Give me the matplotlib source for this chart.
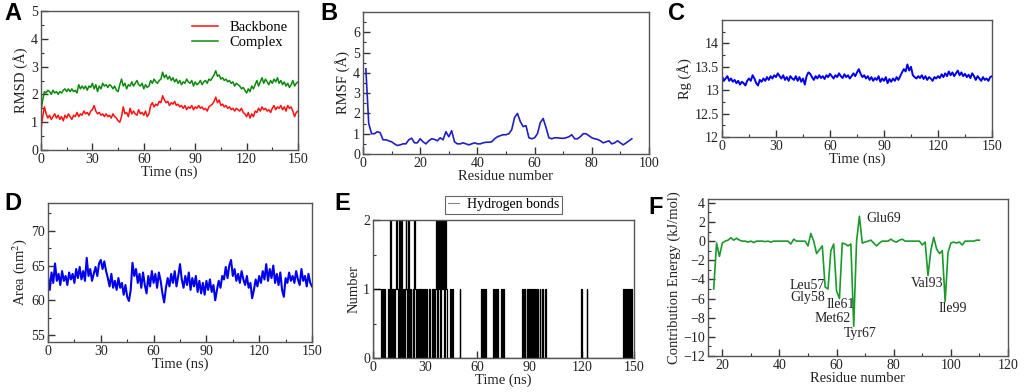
import numpy as np
import matplotlib
matplotlib.use("Agg")
import matplotlib.pyplot as plt
from matplotlib.ticker import MultipleLocator

plt.rcParams['font.family'] = ['Liberation Serif', 'DejaVu Serif']
plt.rcParams['mathtext.fontset'] = 'stix'

# A - RMSD, 1 ns per point (0..150)
rmsd_backbone = [
    0.75, 1.2, 1.55, 1.3, 1.15, 1.25, 1.1, 1.2, 1.3, 1.15,
    1.25, 1.1, 1.2, 1.05, 1.25, 1.15, 1.3, 1.2, 1.1, 1.25,
    1.2, 1.35, 1.2, 1.3, 1.25, 1.4, 1.3, 1.35, 1.25, 1.4,
    1.45, 1.6, 1.4, 1.3, 1.35, 1.25, 1.3, 1.2, 1.3, 1.2,
    1.25, 1.15, 1.3, 1.2, 1.15, 1.05, 1.0, 1.2, 1.55, 1.3,
    1.35, 1.2, 1.5, 1.3, 1.4, 1.3, 1.25, 1.45, 1.3, 1.35,
    1.25, 1.4, 1.2, 1.3, 1.6, 1.7, 1.55, 1.65, 1.6, 1.75,
    1.7, 1.95, 1.8, 1.7, 1.75, 1.6, 1.7, 1.65, 1.75, 1.6,
    1.65, 1.55, 1.6, 1.5, 1.6, 1.45, 1.55, 1.5, 1.6, 1.45,
    1.55, 1.5, 1.6, 1.5, 1.55, 1.45, 1.5, 1.4, 1.55, 1.6,
    1.65, 1.75, 1.9, 1.7, 1.8, 1.6, 1.65, 1.55, 1.6, 1.5,
    1.55, 1.45, 1.5, 1.4, 1.5, 1.45, 1.4, 1.5, 1.35, 1.3,
    1.2, 1.35, 1.15, 1.3, 1.2, 1.4, 1.35, 1.5, 1.4, 1.55,
    1.45, 1.5, 1.4, 1.45, 1.35, 1.5, 1.6, 1.45, 1.55, 1.5,
    1.6, 1.45, 1.55, 1.4, 1.6, 1.5, 1.55, 1.4, 1.2, 1.35,
    1.4]
rmsd_complex = [
    1.4, 1.8, 2.1, 2.05, 2.15, 2.1, 2.0, 2.15, 2.05, 2.1,
    2.0, 2.1, 2.05, 2.15, 2.2, 2.1, 2.2, 2.1, 2.2, 2.1,
    2.15, 2.05, 2.35, 2.2, 2.3, 2.2, 2.3, 2.15, 2.3, 2.25,
    2.4, 2.2, 2.35, 2.1, 2.3, 2.2, 2.4, 2.3, 2.35, 2.25,
    2.35, 2.3, 2.2, 2.3, 2.15, 2.1, 2.35, 2.55, 2.3, 2.4,
    2.2, 2.35, 2.3, 2.45, 2.3, 2.4, 2.5, 2.35, 2.3, 2.4,
    2.2, 2.35, 2.25, 2.3, 2.5, 2.4, 2.55, 2.45, 2.4, 2.5,
    2.55, 2.8, 2.6, 2.7, 2.55, 2.65, 2.5, 2.6, 2.45, 2.55,
    2.4, 2.5, 2.35, 2.45, 2.4, 2.55, 2.45, 2.4, 2.5, 2.3,
    2.45, 2.35, 2.4, 2.5, 2.35, 2.45, 2.5, 2.4, 2.55, 2.5,
    2.6, 2.7, 2.85, 2.65, 2.7, 2.55, 2.6, 2.5, 2.55, 2.45,
    2.5, 2.4, 2.45, 2.3, 2.4, 2.35, 2.3, 2.2, 2.25, 2.15,
    2.05, 2.2, 2.1, 2.3, 2.2, 2.35, 2.5, 2.3, 2.45, 2.6,
    2.4, 2.55, 2.45, 2.35, 2.5, 2.4, 2.55, 2.45, 2.6, 2.4,
    2.5, 2.35, 2.45, 2.3, 2.4, 2.25, 2.35, 2.5, 2.3, 2.4,
    2.45]

# B - RMSF per residue 1..94
rmsf = [
    4.2, 1.5, 1.0, 1.0, 1.1, 1.05, 0.7, 0.7, 0.65, 0.6,
    0.5, 0.42, 0.45, 0.5, 0.5, 0.7, 0.78, 0.55, 0.55, 0.75,
    0.6, 0.5, 0.65, 0.75, 0.72, 0.65, 0.8, 0.7, 1.1, 0.85,
    1.15, 0.6, 0.5, 0.5, 0.55, 0.5, 0.45, 0.5, 0.55, 0.5,
    0.5, 0.55, 0.58, 0.58, 0.6, 0.75, 0.85, 0.9, 0.95, 0.95,
    1.0, 1.2, 1.8, 2.0, 1.6, 1.35, 1.4, 0.8, 0.75, 0.8,
    1.0, 1.55, 1.75, 1.3, 0.8, 0.75, 0.8, 0.8, 0.78, 0.77,
    0.8, 0.85, 0.95, 0.75, 0.75, 0.85, 1.0, 1.0, 0.9, 0.8,
    0.75, 0.72, 0.65, 0.55, 0.6, 0.65, 0.5, 0.55, 0.65, 0.55,
    0.45, 0.55, 0.65, 0.75]

# C - radius of gyration, 1 ns per point
rg = [
    13.3, 13.2, 13.25, 13.3, 13.2, 13.25, 13.18, 13.22, 13.15, 13.2,
    13.12, 13.18, 13.15, 13.1, 13.2, 13.25, 13.2, 13.32, 13.25, 13.15,
    13.1, 13.22, 13.18, 13.25, 13.2, 13.28, 13.22, 13.3, 13.25, 13.32,
    13.28, 13.36, 13.3, 13.25, 13.32, 13.22, 13.28, 13.2, 13.3, 13.25,
    13.22, 13.3, 13.2, 13.28, 13.18, 13.25, 13.12, 13.3, 13.38, 13.35,
    13.28, 13.22, 13.3, 13.25, 13.32, 13.26, 13.3, 13.24, 13.32, 13.28,
    13.35, 13.3, 13.25, 13.32, 13.28, 13.36, 13.3, 13.26, 13.34, 13.28,
    13.32, 13.25, 13.3, 13.36, 13.3, 13.38, 13.45, 13.35, 13.28, 13.32,
    13.25, 13.3, 13.22, 13.28, 13.2, 13.26, 13.22, 13.3, 13.18, 13.25,
    13.2, 13.28, 13.15, 13.24, 13.18, 13.25, 13.2, 13.28, 13.22, 13.3,
    13.38, 13.45, 13.4, 13.55, 13.42, 13.5, 13.32, 13.28, 13.25, 13.3,
    13.26, 13.32, 13.24, 13.3, 13.22, 13.28, 13.25, 13.2, 13.28, 13.25,
    13.3, 13.26, 13.34, 13.28, 13.36, 13.3, 13.4, 13.32, 13.38, 13.3,
    13.36, 13.42, 13.32, 13.38, 13.3, 13.35, 13.28, 13.33, 13.26, 13.36,
    13.3, 13.22, 13.3, 13.25, 13.2, 13.28, 13.22, 13.25, 13.2, 13.28,
    13.3]

# D - SASA, 1 ns per point
area = [
    63.5, 61.5, 64.0, 62.5, 65.3, 62.8, 63.8, 62.2, 64.2, 62.8,
    63.5, 62.2, 64.0, 63.0, 63.8, 62.5, 64.5, 63.2, 64.8, 63.0,
    64.2, 62.8, 66.1, 63.5, 64.5, 62.8, 63.8, 64.8, 63.5, 65.3,
    65.8, 64.5, 65.6, 64.2, 63.2, 62.0, 63.8, 61.8, 62.8, 61.5,
    63.2, 61.8, 62.5, 60.8, 62.2, 60.5, 59.9, 61.5, 65.4, 63.5,
    64.5, 62.5, 63.8, 61.8, 64.0, 62.2, 61.0, 63.5, 62.0, 64.2,
    62.5, 63.8, 61.8, 64.0, 62.8, 61.0, 59.7, 61.8, 63.2, 62.0,
    63.8, 62.5, 64.2, 62.0, 63.5, 65.2, 63.0, 61.8, 63.5, 62.2,
    64.0, 61.5, 63.2, 62.0, 63.5, 61.2, 62.8, 61.0, 62.5, 60.8,
    62.8, 61.5, 63.0, 61.2, 62.2, 60.0, 61.5, 62.8, 61.8, 63.5,
    63.0, 64.8, 63.2, 65.0, 65.8, 63.5, 64.5, 62.8, 63.8, 62.5,
    64.2, 63.0, 62.2, 63.5, 61.8, 62.5, 60.3, 61.5, 63.0, 62.0,
    63.5, 62.5, 64.2, 63.0, 65.2, 62.8, 64.5, 63.2, 65.0, 62.5,
    63.8, 62.2, 64.0, 61.5, 60.5, 63.2, 62.5, 64.0, 62.8, 63.5,
    62.5, 64.2, 63.0, 62.2, 64.5, 62.8, 63.5, 62.0, 63.8, 62.5,
    62.0]

# E - hydrogen bonds, frames every 0.5 ns; only frames with bonds listed
hb_times = [
    0.5, 1, 1.5, 2, 2.5, 3, 3.5, 4, 4.5, 5.5, 6.5, 9, 10, 11, 12, 13, 13.5,
    14, 15, 15.5, 16.5, 17.5, 18.5, 19, 19.5, 20.5, 21.5, 23, 24, 24.5,
    25.5, 26.5, 27.5, 28.5, 29.5, 30.5, 32.5, 34, 35, 36, 36.5, 37.5, 38,
    38.5, 39.5, 40, 40.5, 41.5, 42, 44.5, 45.5, 50, 62.5, 63.5, 64.5, 69.5,
    70.5, 71.5, 74, 75, 86, 87, 88.5, 89.5, 90.5, 91.5, 92.5, 93.5, 94.5,
    96, 97.5, 99, 120, 123, 144, 145, 146.5, 147.5, 148.5]
hb_counts = [
    1, 1, 1, 1, 1, 1, 1, 1, 1, 1, 1, 1, 2, 1, 1, 1, 2,
    1, 2, 1, 2, 1, 1, 2, 1, 2, 1, 1, 2, 1,
    1, 1, 1, 1, 1, 1, 1, 1, 1, 1, 2, 2, 1,
    2, 2, 1, 2, 2, 1, 1, 1, 1, 1, 1, 1, 1,
    1, 1, 1, 1, 1, 1, 1, 1, 1, 1, 1, 1, 1,
    1, 1, 1, 1, 1, 1, 1, 1, 1, 1]

# F - per-residue energy contribution, residues 17..110
res_f = list(range(17, 111))
energy = [
    -5.0, -0.2, -1.6, -0.2, 0.0, 0.1, 0.35, 0.1, 0.3, 0.1,
    0.0, 0.0, -0.1, 0.0, -0.15, 0.0, 0.0, 0.0, -0.05, 0.0,
    -0.1, 0.0, 0.0, 0.0, 0.0, 0.0, 0.0, -0.3, 0.2, 0.0,
    0.0, 0.0, 0.0, -0.5, 0.8, 0.0, -1.3, -0.9, -0.5, -4.8,
    -5.0, -1.0, -0.3, -5.2, -6.0, -0.2, -0.3, -0.5, -0.3, -8.9,
    0.0, 2.6, -0.2, -0.1, 0.0, 0.1, -0.2, -0.5, -0.2, 0.0,
    0.0, 0.0, 0.2, 0.0, -0.1, 0.1, 0.2, 0.0, 0.0, 0.0,
    0.0, 0.0, 0.0, -0.4, -0.1, -3.6, -1.0, 0.4, -0.8, -1.3,
    -1.0, -6.3, -1.2, -0.2, -0.1, -0.2, -0.1, -0.4, 0.0, 0.0,
    0.0, 0.0, 0.1, 0.1]
f_labels = ["Glu69", "Leu57", "Gly58", "Ile61", "Met62", "Tyr67", "Val93", "Ile99"]
f_label_xy = [(70.3, 2.4), (56.0, -4.6), (56.0, -5.9), (61.3, -6.6),
              (64.8, -8.1), (68.2, -9.6), (91.6, -4.4), (100.7, -7.0)]
f_label_ha = ["left", "right", "right", "center", "right", "center", "center", "center"]

t = np.arange(151)

fig = plt.figure(figsize=(10.24, 3.92), dpi=100)
W, H = 1024, 392


def add_ax(l, r, top, bot):
    return fig.add_axes([l / W, (H - bot) / H, (r - l) / W, (bot - top) / H])


def style(ax, xmaj, xmin, ymaj, ymin):
    for s in ax.spines.values():
        s.set_color('#555555')
        s.set_linewidth(1.0)
    ax.tick_params(direction='in', which='both', top=False, right=False,
                   labelsize=10, colors='#222222', pad=2)
    ax.tick_params(which='major', length=5, width=1, color='#333333')
    ax.tick_params(which='minor', length=2.5, width=0.8, color='#333333')
    ax.xaxis.set_major_locator(MultipleLocator(xmaj))
    if xmin:
        ax.xaxis.set_minor_locator(MultipleLocator(xmin))
    ax.yaxis.set_major_locator(MultipleLocator(ymaj))
    if ymin:
        ax.yaxis.set_minor_locator(MultipleLocator(ymin))


lab = dict(fontsize=10.5, color='#222222')

# A
ax = add_ax(41, 298, 11, 150)
ax.plot(t, rmsd_backbone, color='#ff1010', lw=1.1, label='Backbone')
ax.plot(t, rmsd_complex, color='#0a8a0a', lw=1.1, label='Complex')
ax.set_xlim(0, 150)
ax.set_ylim(0, 5)
style(ax, 30, 15, 1, 0.5)
ax.set_xlabel('Time (ns)', labelpad=0, **lab)
ax.set_ylabel('RMSD (Å)', labelpad=2, **lab)
ax.legend(loc='upper right', frameon=False, fontsize=10.5, handlelength=1.8,
          borderaxespad=0.3, labelspacing=0.1)

# B
ax = add_ax(363, 649, 12, 154)
ax.plot(range(1, len(rmsf) + 1), rmsf, color='#2020c0', lw=1.2)
ax.set_xlim(0, 100)
ax.set_ylim(0, 7)
style(ax, 20, 10, 1, 0.5)
ax.set_yticks([0, 1, 2, 3, 4, 5, 6])
ax.set_xlabel('Residue number', labelpad=0, **lab)
ax.set_ylabel('RMSF (Å)', labelpad=2, **lab)

# C
ax = add_ax(722, 992, 20, 137)
ax.plot(t, rg, color='#0000ee', lw=1.4)
ax.set_xlim(0, 150)
ax.set_ylim(12, 14.5)
style(ax, 30, 15, 0.5, 0.25)
ax.set_yticks([12, 12.5, 13, 13.5, 14])
ax.set_yticklabels(['12', '12.5', '13', '13.5', '14'])
ax.set_xlabel('Time (ns)', labelpad=0, **lab)
ax.set_ylabel('Rg (Å)', labelpad=2, **lab)

# D
ax = add_ax(48, 312, 203, 342)
ax.plot(t, area, color='#0000ee', lw=1.5)
ax.set_xlim(0, 150)
ax.set_ylim(54, 74)
style(ax, 30, 15, 5, 2.5)
ax.set_yticks([55, 60, 65, 70])
ax.set_xlabel('Time (ns)', labelpad=0, **lab)
ax.set_ylabel('Area (nm$^2$)', labelpad=2, **lab)

# E
hb_t = np.arange(0, 150.5, 0.5)
hb_n = np.zeros(len(hb_t))
for tt, n in zip(hb_times, hb_counts):
    hb_n[int(round(tt / 0.5))] = n
ax = add_ax(373, 634, 220, 358)
ax.plot(hb_t, hb_n, color='black', lw=0.9, drawstyle='steps-mid',
        label='Hydrogen bonds')
ax.set_xlim(0, 150)
ax.set_ylim(0, 2)
style(ax, 30, None, 1, 0.5)
ax.set_xlabel('Time (ns)', labelpad=0, **lab)
ax.set_ylabel('Number', labelpad=2, **lab)
leg = ax.legend(loc='center', bbox_to_anchor=(0.5, 1.11), fontsize=10,
                fancybox=False, edgecolor='#666666', handlelength=0.8,
                borderpad=0.2, framealpha=1, handletextpad=0.6)
leg.get_frame().set_linewidth(0.8)
leg.get_lines()[0].set_color('#888888')
leg.get_lines()[0].set_linewidth(0.8)

# F
ax = add_ax(708, 1008, 199, 356)
ax.plot(res_f, energy, color='#1a9a2a', lw=1.2)
ax.set_xlim(15, 120)
ax.set_ylim(-12, 4.4)
style(ax, 20, 10, 2, 1)
ax.set_xticks([20, 40, 60, 80, 100, 120])
ax.set_xlabel('Residue number', labelpad=0, **lab)
ax.set_ylabel('Contribution Energy (kJ/mol)', labelpad=2, **lab)
for txt, (x, y), ha in zip(f_labels, f_label_xy, f_label_ha):
    ax.text(x, y, txt, ha=ha, va='center', fontsize=10, color='#222222')

# panel letters
for letter, x, y in [('A', 4, 2), ('B', 320, 2), ('C', 668, 2),
                     ('D', 4, 192), ('E', 334, 192), ('F', 648, 196)]:
    fig.text(x / W, 1 - y / H, letter, fontsize=17, fontweight='bold',
             family='Liberation Sans', va='top', ha='left')

fig.savefig('out.png', dpi=100)
